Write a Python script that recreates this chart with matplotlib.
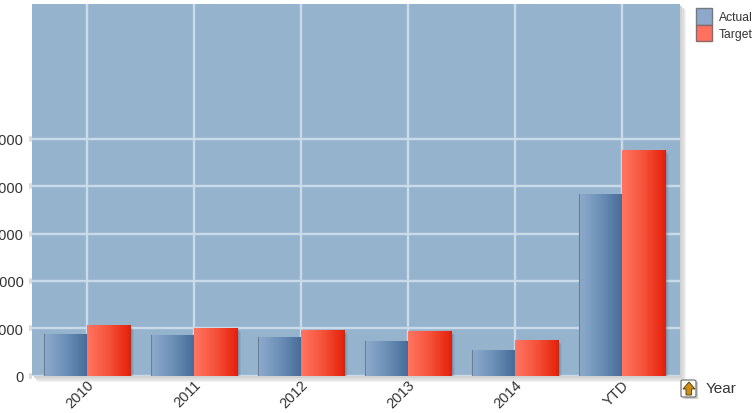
import numpy as np
import matplotlib
matplotlib.use("Agg")
import matplotlib.pyplot as plt
from matplotlib.colors import LinearSegmentedColormap
from matplotlib.patches import Rectangle, Polygon, FancyBboxPatch

categories = ["2010", "2011", "2012", "2013", "2014", "YTD"]
actual = [890, 865, 820, 740, 550, 3840]
target = [1075, 1010, 970, 950, 760, 4770]
y_ticks = [0, 1000, 2000, 3000, 4000, 5000]
y_labels = ["0", "1000", "2000", "3000", "4000", "5000"]

W, H = 756, 414
L, R, T, B = 32, 680, 4.7, 376.7
plt.rcParams["font.family"] = ["Liberation Sans", "DejaVu Sans"]
fig = plt.figure(figsize=(W / 100, H / 100), dpi=100, facecolor="white")

# plot-area drop shadow
for off, col in [(6, "#f2f2f2"), (5, "#e8e8e8"), (4, "#dedede"), (2, "#d2d2d2")]:
    fig.add_artist(Rectangle(((L + off) / W, 1 - (B + off) / H), (R - L) / W, (B - T) / H,
                             transform=fig.transFigure, fc=col, ec="none", zorder=0))

ax = fig.add_axes([L / W, 1 - B / H, (R - L) / W, (B - T) / H], zorder=1)
ax.set_facecolor("#96B3CD")
ymax = (B - T) / 47.4 * 1000
ax.set_xlim(-0.514, 5.542)
ax.set_ylim(0, ymax)
x = np.arange(len(categories))

ax.grid(True, color="#C9DAE9", lw=1.7, zorder=1)
ax.set_axisbelow(True)
for s in ax.spines.values():
    s.set_visible(False)
ax.set_xticks(x, categories, rotation=45, ha="right", va="top", rotation_mode="anchor",
              fontsize=10.5, color="#333333")
ax.set_yticks(y_ticks, y_labels, fontsize=10.5, color="#333333")
ax.tick_params(axis="x", length=0, pad=1)
ax.tick_params(axis="y", length=2, width=4, color="#dcdcdc", pad=4)

cm_a = LinearSegmentedColormap.from_list("a", ["#8EABCD", "#6C8FB6", "#456C98"])
cm_t = LinearSegmentedColormap.from_list("t", ["#FF7562", "#F5523A", "#E5200A"])
grad = np.linspace(0, 1, 64).reshape(1, -1)
bw = 0.405


def gradient_bars(xs, vals, cmap, edge_side, edge):
    bars = ax.bar(xs, vals, width=bw, align="edge", fc="none", ec="none", zorder=4)
    for b in bars:
        x0, w, h = b.get_x(), b.get_width(), b.get_height()
        for i, a in [(4, .08), (3, .10), (2, .14), (1, .20)]:
            ax.add_patch(Rectangle((x0 + i * 0.0093, 0), w, h - i * 21,
                                   fc="#3c4c60", ec="none", alpha=a, zorder=3))
        im = ax.imshow(grad, cmap=cmap, extent=(x0, x0 + w, 0, h), aspect="auto",
                       zorder=4, interpolation="bilinear")
        im.set_clip_path(b)
        ex = x0 if edge_side == "left" else x0 + w
        ax.plot([ex, ex], [0, h], color=edge, lw=0.8, zorder=5)


gradient_bars(x - bw, actual, cm_a, "left", "#6d7f93")
gradient_bars(x, target, cm_t, "right", "#b8301c")
ax.set_xlim(-0.514, 5.542)
ax.set_ylim(0, ymax)

handles = [Rectangle((0, 0), 1, 1, fc="#8EA8CB", ec="#74797f", lw=1),
           Rectangle((0, 0), 1, 1, fc="#FF7060", ec="#8a6a68", lw=1)]
fig.legend(handles, ["Actual", "Target"], loc="upper left",
           bbox_to_anchor=(696 / W, 1 - 9 / H), bbox_transform=fig.transFigure,
           frameon=False, fontsize=8.7, borderpad=0, borderaxespad=0, labelspacing=0,
           handlelength=1.3, handleheight=1.75, handletextpad=0.62, labelcolor="#333333")

# drill-up icon and Year label
fig.add_artist(Rectangle((684 / W, 1 - 400 / H), 14 / W, 17 / H, transform=fig.transFigure,
                         fc="#cfcfcf", ec="none"))
fig.add_artist(FancyBboxPatch((681 / W, 1 - 398 / H), 15 / W, 17 / H,
                              boxstyle="round,pad=0,rounding_size=0.003",
                              transform=fig.transFigure, fc="#fcfcf4", ec="#666666", lw=0.8))
fig.add_artist(Polygon([[689 / W, 1 - 383 / H], [695 / W, 1 - 390 / H], [691.5 / W, 1 - 390 / H],
                        [691.5 / W, 1 - 396 / H], [686 / W, 1 - 396 / H], [686 / W, 1 - 390 / H],
                        [683 / W, 1 - 390 / H]], closed=True, transform=fig.transFigure,
                       fc="#C98F18", ec="#4e3506", lw=0.6))
fig.text(706 / W, 1 - 389 / H, "Year", fontsize=11, color="#333333", ha="left", va="center")

fig.savefig("out.png", dpi=100)
